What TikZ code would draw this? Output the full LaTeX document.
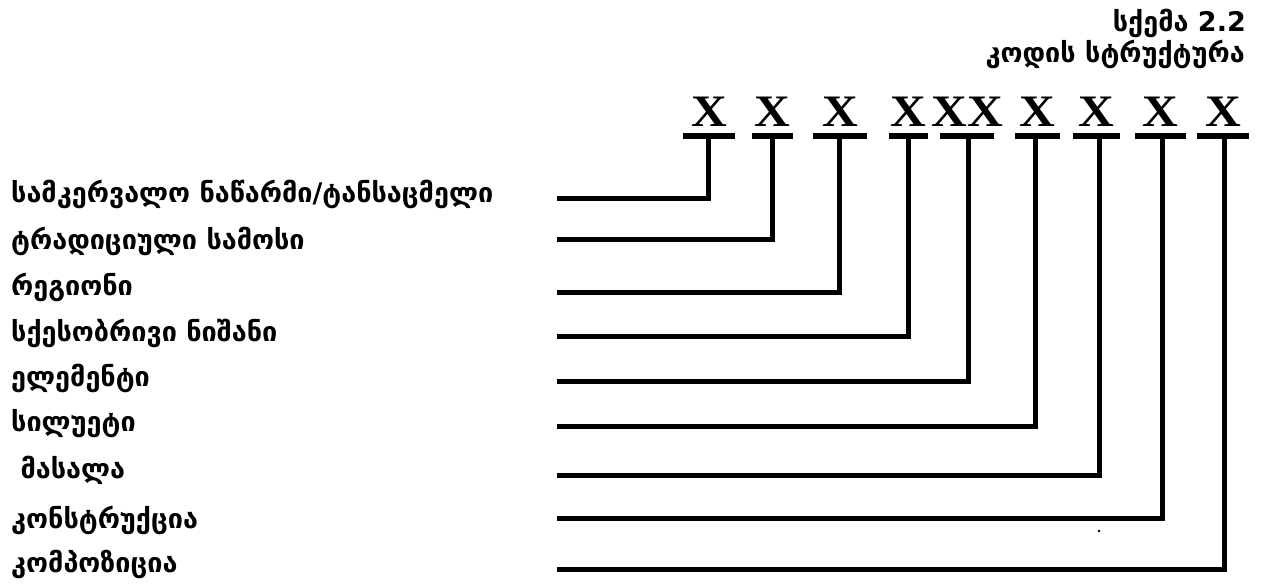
\documentclass[tikz,border=0pt]{standalone}
\usepackage{fontspec}
\newfontfamily\geo{DejaVu Sans}
\newfontfamily\xfont{Liberation Serif}
\begin{document}
\begin{tikzpicture}[x=1pt,y=-1pt,
  lbl/.style={anchor=base west,inner sep=0pt,font=\geo\bfseries\fontsize{27}{27}\selectfont},
  ttl/.style={anchor=base east,inner sep=0pt,font=\geo\bfseries\fontsize{27}{27}\selectfont},
  xl/.style={anchor=base,inner sep=0pt,xscale=1.1,font=\xfont\bfseries\fontsize{45}{45}\selectfont},
  bar/.style={line width=6pt},
  conn/.style={line width=5pt}]
\useasboundingbox (0,0) rectangle (1266,585);
% title
\node[ttl] (t1) at (1246,32) {სქემა 2.2};
\node[ttl] (t2) at (1245,63) {კოდის სტრუქტურა};
% X letters
\foreach \i/\cx/\txt in {1/709/X,2/772/X,3/840/X,4/908/X,5/967/XX,6/1037/X,7/1096/X,8/1160/X,9/1223/X}
  \node[xl] (x\i) at (\cx,127) {\txt};
% bars
\foreach \i/\l/\r/\v in {1/683/735/708,2/752/793/772,3/813/867/839,4/889/928/908,5/940/994/968,6/1015/1060/1035,7/1073/1120/1099,8/1135/1186/1162,9/1197/1249/1224}{
  \draw[bar] (\l,136) -- (\r,136);
  \coordinate (b\i) at (\v,136);
}
% labels
\node[lbl] (l1) at (11,203) {სამკერვალო ნაწარმი/ტანსაცმელი};
\node[lbl] (l2) at (11,250) {ტრადიციული სამოსი};
\node[lbl] (l3) at (11,295) {რეგიონი};
\node[lbl] (l4) at (11,341) {სქესობრივი ნიშანი};
\node[lbl] (l5) at (11,386) {ელემენტი};
\node[lbl] (l6) at (11,431) {სილუეტი};
\node[lbl] (l7) at (11,478) {\ მასალა};
\node[lbl] (l8) at (11,528) {კონსტრუქცია};
\node[lbl] (l9) at (11,572) {კომპოზიცია};
% connector start points
\foreach \i/\y in {1/199,2/240,3/293,4/336,5/381,6/426,7/475,8/518,9/569}
  \coordinate (s\i) at (557,\y);
\foreach \i in {1,...,9}
  \draw[conn] (s\i) -| (b\i);
% stray dot
\fill (1099,531) circle (1.3pt);
\end{tikzpicture}
\end{document}
